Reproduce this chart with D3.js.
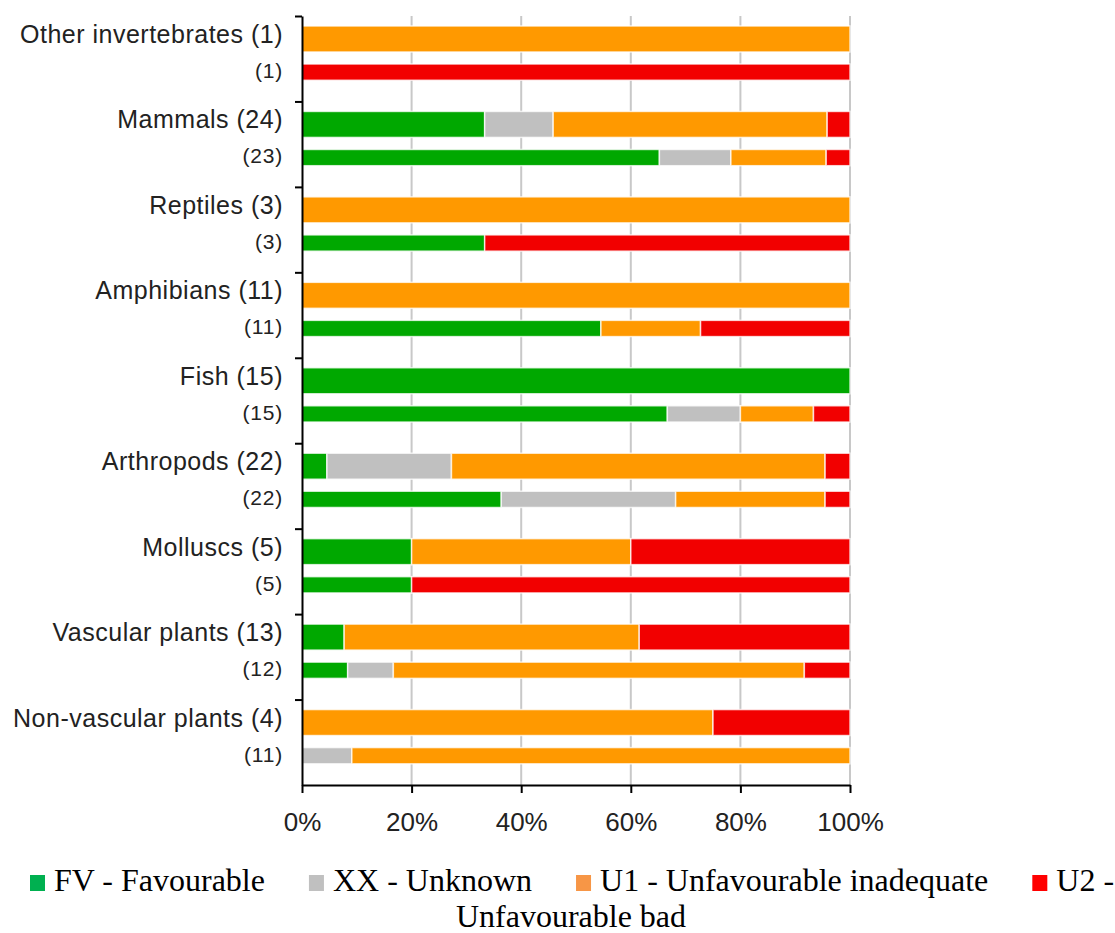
<!DOCTYPE html>
<html>
<head>
<meta charset="utf-8">
<script src="https://cdn.jsdelivr.net/npm/d3@7"></script>
<style>
  body { margin: 0; background: #fff; }
  svg { display: block; }
</style>
</head>
<body>
<svg id="chart"></svg>
<script>
// group names with counts, first (upper) bar label and second (lower) bar label
const groupLabels = [
  "Other invertebrates (1)",
  "Mammals (24)",
  "Reptiles (3)",
  "Amphibians (11)",
  "Fish (15)",
  "Arthropods (22)",
  "Molluscs (5)",
  "Vascular plants (13)",
  "Non-vascular plants (4)",
];
const secondLabels = ["(1)", "(23)", "(3)", "(11)", "(15)", "(22)", "(5)", "(12)", "(11)"];

// counts per bar, rows ordered: group0 upper, group0 lower, group1 upper, ...
const FV = [0, 0, 8, 15, 0, 1, 0, 6, 15, 10, 1, 8, 1, 1, 1, 1, 0, 0];
const XX = [0, 0, 3, 3, 0, 0, 0, 0, 0, 2, 5, 7, 0, 0, 0, 1, 0, 1];
const U1 = [1, 0, 12, 4, 3, 0, 11, 2, 0, 2, 15, 6, 2, 0, 7, 9, 3, 10];
const U2 = [0, 1, 1, 1, 0, 2, 0, 3, 0, 1, 1, 1, 2, 4, 5, 1, 1, 0];

const statusKeys = ["FV", "XX", "U1", "U2"];
const barColors = ["#00a800", "#c0c0c0", "#ff9900", "#f20000"];
const legendColors = ["#00b050", "#c0c0c0", "#f79646", "#ff0000"];
const legendLabels = ["FV - Favourable", "XX - Unknown", "U1 - Unfavourable inadequate", "U2 -"];
const legendWrap = "Unfavourable bad";
const xTicks = [0, 0.2, 0.4, 0.6, 0.8, 1];

const W = 1115, H = 933;
const plot = {left: 302, right: 850, top: 16, bottom: 785};

const svg = d3.select("#chart").attr("width", W).attr("height", H);

// table for the stack
const rows = FV.map((d, i) => ({
  row: i,
  group: Math.floor(i / 2),
  sub: i % 2,
  FV: FV[i], XX: XX[i], U1: U1[i], U2: U2[i],
}));

const stack = d3.stack().keys(statusKeys).offset(d3.stackOffsetExpand);
const series = stack(rows);

const x = d3.scaleLinear().domain([0, 1]).range([plot.left, plot.right]);
const yGroup = d3.scaleBand()
  .domain(d3.range(groupLabels.length))
  .range([plot.top, plot.bottom])
  .paddingInner(0).paddingOuter(0);
const bw = yGroup.bandwidth();

// upper bar thick, lower bar thin
const subTop = [0.117 * bw, 0.562 * bw];
const subH = [0.304 * bw, 0.19 * bw];

const color = d3.scaleOrdinal().domain(statusKeys).range(barColors);

// grid
svg.append("g")
  .selectAll("line")
  .data(xTicks.slice(1))
  .join("line")
  .attr("x1", d => x(d)).attr("x2", d => x(d))
  .attr("y1", plot.top).attr("y2", plot.bottom)
  .attr("stroke", "#c8c8c8")
  .attr("stroke-width", 2);

// bars
svg.append("g")
  .selectAll("g")
  .data(series)
  .join("g")
  .attr("fill", d => color(d.key))
  .selectAll("rect")
  .data(d => d.filter(s => s[1] - s[0] > 0))
  .join("rect")
  .attr("x", d => x(d[0]))
  .attr("width", d => x(d[1]) - x(d[0]))
  .attr("y", d => yGroup(d.data.group) + subTop[d.data.sub])
  .attr("height", d => subH[d.data.sub])
  .attr("stroke", "#fff")
  .attr("stroke-opacity", 0.75)
  .attr("stroke-width", 1.5);

// category labels
const labelG = svg.append("g")
  .attr("font-family", "'Liberation Sans', Arial, sans-serif")
  .attr("fill", "#222")
  .attr("text-anchor", "end");

labelG.selectAll("text.main")
  .data(groupLabels)
  .join("text")
  .attr("class", "main")
  .attr("x", 283)
  .attr("y", (d, i) => yGroup(i) + 27)
  .attr("font-size", 25)
  .attr("letter-spacing", 0.5)
  .text(d => d);

labelG.selectAll("text.sub")
  .data(secondLabels)
  .join("text")
  .attr("class", "sub")
  .attr("x", 283)
  .attr("y", (d, i) => yGroup(i) + 62)
  .attr("font-size", 21)
  .attr("letter-spacing", 0.8)
  .text(d => d);

// left axis: ticks at group boundaries
const yIdx = d3.scaleLinear().domain([0, groupLabels.length]).range([plot.top, plot.bottom]);
svg.append("g")
  .attr("transform", `translate(${plot.left},0)`)
  .call(d3.axisLeft(yIdx)
    .tickValues(d3.range(groupLabels.length))
    .tickFormat("")
    .tickSize(7)
    .tickSizeOuter(0))
  .call(g => g.selectAll("path, line").attr("stroke", "#000").attr("stroke-width", 2));

// bottom axis
svg.append("g")
  .attr("transform", `translate(0,${plot.bottom})`)
  .call(d3.axisBottom(x)
    .tickValues(xTicks)
    .tickFormat(d3.format(".0%"))
    .tickSize(8)
    .tickSizeOuter(0)
    .tickPadding(20))
  .call(g => g.selectAll("path, line").attr("stroke", "#000").attr("stroke-width", 2))
  .call(g => g.selectAll("text")
    .attr("font-family", "'Liberation Sans', Arial, sans-serif")
    .attr("font-size", 26)
    .attr("fill", "#222"));

// legend
const legend = svg.append("g")
  .attr("font-family", "'Liberation Serif', 'Times New Roman', serif")
  .attr("font-size", 32)
  .attr("fill", "#000");

const baseline1 = 891;
let lx = 30;
legendLabels.forEach((lab, i) => {
  legend.append("rect")
    .attr("x", lx).attr("y", baseline1 - 16)
    .attr("width", 15).attr("height", 16)
    .attr("fill", legendColors[i]);
  const t = legend.append("text")
    .attr("x", lx + 24).attr("y", baseline1)
    .text(lab);
  lx = lx + 24 + t.node().getComputedTextLength() + 44;
});

legend.append("text")
  .attr("x", 571).attr("y", 927)
  .attr("text-anchor", "middle")
  .text(legendWrap);
</script>
</body>
</html>
